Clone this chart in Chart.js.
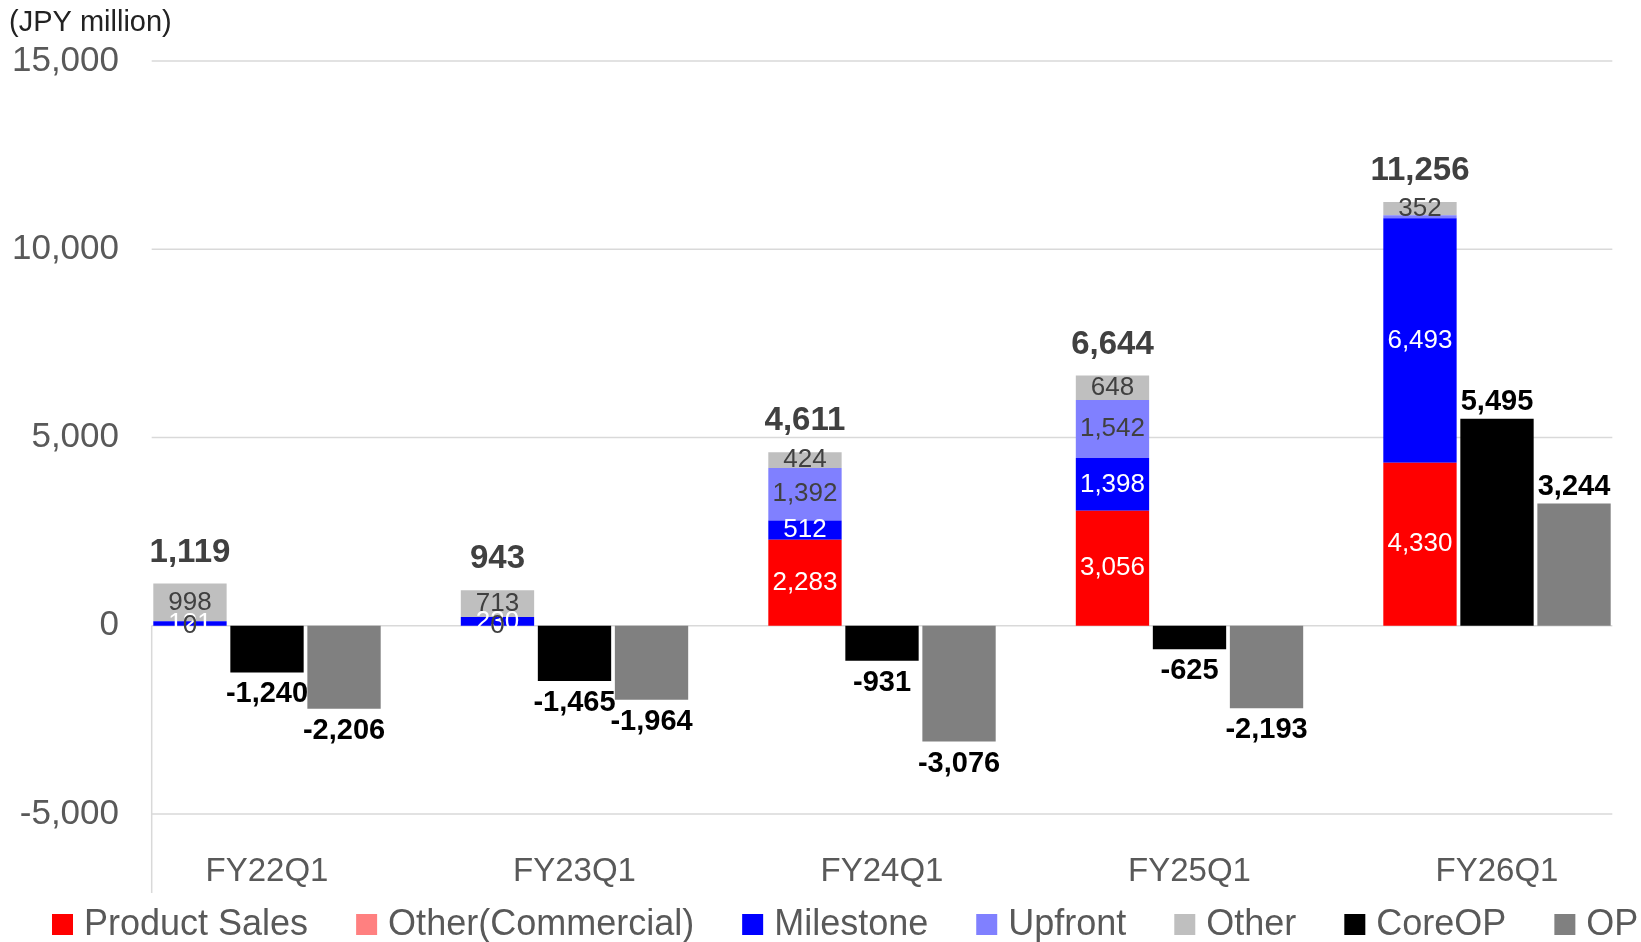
<!DOCTYPE html>
<html>
<head>
<meta charset="utf-8">
<script src="https://cdn.jsdelivr.net/npm/chart.js@4.4.0/dist/chart.umd.min.js"></script>
<style>
  html, body { margin: 0; padding: 0; background: #fff; }
  #wrap { width: 1641px; height: 942px; }
</style>
</head>
<body>
<div id="wrap"><canvas id="revenueChart" width="1641" height="942"></canvas></div>
<script>
// data (JPY million)
const categories = ['FY22Q1', 'FY23Q1', 'FY24Q1', 'FY25Q1', 'FY26Q1'];
const productSales = [0, 0, 2283, 3056, 4330];
const otherCommercial = [0, 0, 0, 0, 0];
const milestone = [121, 230, 512, 1398, 6493];
const upfront = [0, 0, 1392, 1542, 81];
const otherRevenue = [998, 713, 424, 648, 352];
const coreOP = [-1240, -1465, -931, -625, 5495];
const op = [-2206, -1964, -3076, -2193, 3244];
const yTicks = [-5000, 0, 5000, 10000, 15000];

const FONT = "'Liberation Sans', Arial, sans-serif";
const fmt = v => v.toLocaleString('en-US');

// gridlines + short vertical axis line (Excel look)
const gridPlugin = {
    id: 'gridLines',
    beforeDatasetsDraw(chart) {
        const x = chart.scales.x, y = chart.scales.y, ctx = chart.ctx;
        const pitch = x.getPixelForValue(1) - x.getPixelForValue(0);
        const left = x.getPixelForValue(0) - pitch * 0.375;
        const right = x.getPixelForValue(categories.length - 1) + pitch * 0.375;
        ctx.save();
        ctx.strokeStyle = '#d9d9d9';
        ctx.lineWidth = 1.5;
        yTicks.forEach(function(t) {
            const py = y.getPixelForValue(t);
            ctx.beginPath();
            ctx.moveTo(left, py);
            ctx.lineTo(right, py);
            ctx.stroke();
        });
        ctx.beginPath();
        ctx.moveTo(left, y.getPixelForValue(0));
        ctx.lineTo(left, 893);
        ctx.stroke();
        ctx.restore();
    }
};

// value labels on bars
const labelPlugin = {
    id: 'barLabels',
    afterDatasetsDraw(chart) {
        const ctx = chart.ctx, y = chart.scales.y;
        const revIdx = [0, 1, 2, 3, 4];
        const segColors = { 0: '#FFFFFF', 2: '#FFFFFF', 3: '#404040', 4: '#404040' };
        const zeros = [];
        ctx.save();
        ctx.textAlign = 'center';
        ctx.textBaseline = 'middle';
        ctx.font = '26px ' + FONT;
        [0, 2, 3, 4].forEach(function(di) {
            const ds = chart.data.datasets[di];
            const meta = chart.getDatasetMeta(di);
            ds.data.forEach(function(v, j) {
                const el = meta.data[j];
                const cy = (el.y + el.base) / 2;
                if (v === 0) {
                    if (di === 0) zeros.push([el.x, cy]);
                    return;
                }
                if (di === 3 && v < 200) return;
                ctx.fillStyle = segColors[di];
                ctx.fillText(fmt(v), el.x, cy);
            });
        });
        ctx.fillStyle = '#404040';
        zeros.forEach(function(p) { ctx.fillText('0', p[0], p[1]); });

        // totals above revenue stack
        ctx.font = 'bold 33px ' + FONT;
        ctx.textBaseline = 'alphabetic';
        ctx.fillStyle = '#404040';
        categories.forEach(function(c, j) {
            let total = 0;
            revIdx.forEach(function(di) { total += chart.data.datasets[di].data[j]; });
            const el = chart.getDatasetMeta(4).data[j];
            ctx.fillText(fmt(total), el.x, y.getPixelForValue(total) - 22);
        });

        // CoreOP / OP
        ctx.font = 'bold 29px ' + FONT;
        ctx.textBaseline = 'middle';
        ctx.fillStyle = '#000000';
        [5, 6].forEach(function(di) {
            const meta = chart.getDatasetMeta(di);
            chart.data.datasets[di].data.forEach(function(v, j) {
                const el = meta.data[j];
                ctx.fillText(fmt(v), el.x, v >= 0 ? el.y - 17 : el.y + 22);
            });
        });
        ctx.restore();
    }
};

// unit caption + legend in one row along the bottom
const decorPlugin = {
    id: 'decor',
    afterDraw(chart) {
        const ctx = chart.ctx;
        ctx.save();
        ctx.font = '29px ' + FONT;
        ctx.fillStyle = '#222222';
        ctx.textAlign = 'left';
        ctx.textBaseline = 'alphabetic';
        ctx.fillText('(JPY million)', 9, 31);

        ctx.font = '36px ' + FONT;
        ctx.textBaseline = 'middle';
        let x = 52;
        const cy = 924;
        chart.data.datasets.forEach(function(ds) {
            ctx.fillStyle = ds.backgroundColor;
            ctx.fillRect(x, cy - 10, 21, 21);
            ctx.fillStyle = '#595959';
            ctx.fillText(ds.label, x + 32, cy + 1);
            x += 32 + ctx.measureText(ds.label).width + 48;
        });
        ctx.restore();
    }
};

const ctx = document.getElementById('revenueChart').getContext('2d');
new Chart(ctx, {
    type: 'bar',
    data: {
        labels: categories,
        datasets: [
            { label: 'Product Sales', data: productSales, backgroundColor: '#FF0000', stack: 'rev' },
            { label: 'Other(Commercial)', data: otherCommercial, backgroundColor: '#FF8080', stack: 'rev' },
            { label: 'Milestone', data: milestone, backgroundColor: '#0000FF', stack: 'rev' },
            { label: 'Upfront', data: upfront, backgroundColor: '#8080FF', stack: 'rev' },
            { label: 'Other', data: otherRevenue, backgroundColor: '#BFBFBF', stack: 'rev' },
            { label: 'CoreOP', data: coreOP, backgroundColor: '#000000', stack: 'core' },
            { label: 'OP', data: op, backgroundColor: '#808080', stack: 'op' }
        ].map(function(d) {
            d.clip = false;
            d.categoryPercentage = 0.7515;
            d.barPercentage = 0.952;
            d.borderWidth = 0;
            return d;
        })
    },
    options: {
        responsive: false,
        animation: false,
        devicePixelRatio: 1,
        layout: { padding: { top: 61, right: 144, left: 0, bottom: 0 } },
        plugins: {
            legend: { display: false },
            tooltip: { enabled: false }
        },
        scales: {
            x: {
                stacked: true,
                offset: false,
                grid: { display: false },
                border: { display: false },
                ticks: {
                    color: '#595959',
                    font: { family: FONT, size: 33 },
                    padding: 30
                },
                afterFit: function(scale) { scale.height = 128; }
            },
            y: {
                stacked: true,
                min: -5000,
                max: 15000,
                grid: { display: false },
                border: { display: false },
                afterBuildTicks: function(scale) {
                    scale.ticks = yTicks.map(function(v) { return { value: v }; });
                },
                ticks: {
                    color: '#595959',
                    font: { family: FONT, size: 35 },
                    padding: 140,
                    callback: function(value) { return fmt(value); }
                },
                afterFit: function(scale) {
                    scale.width = 267;
                    scale.paddingTop = 0;
                    scale.paddingBottom = 0;
                }
            }
        }
    },
    plugins: [gridPlugin, labelPlugin, decorPlugin]
});
</script>
</body>
</html>
